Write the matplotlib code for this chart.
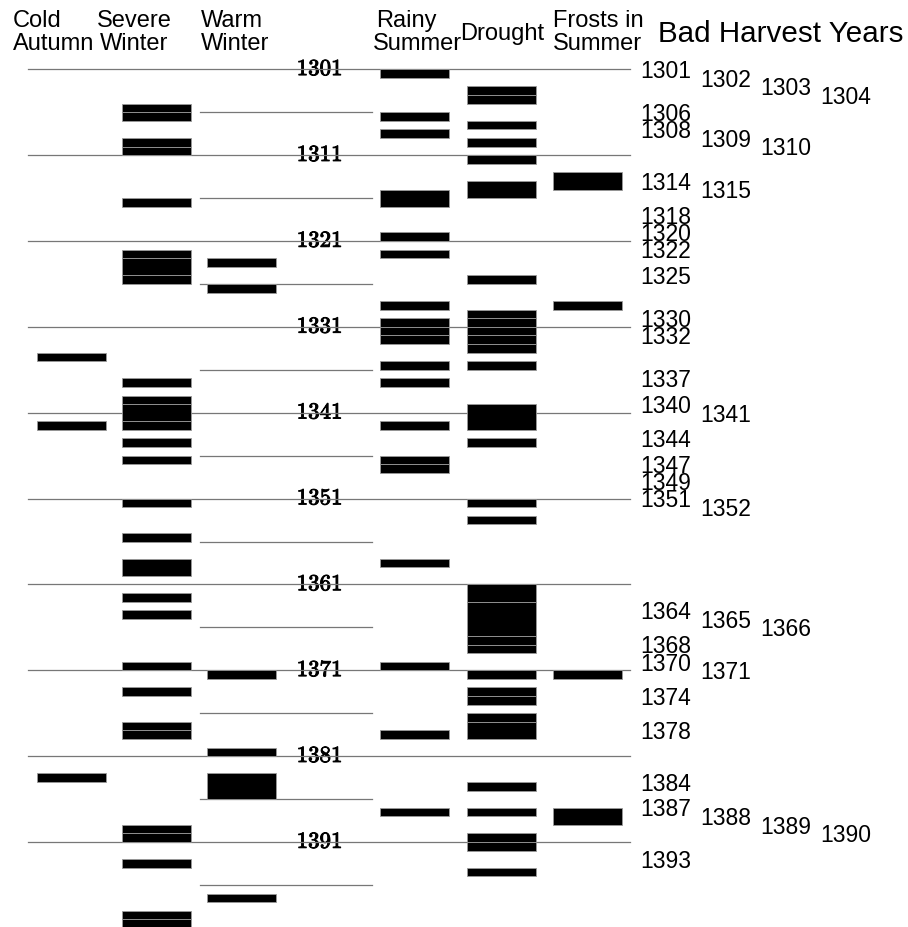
import matplotlib
matplotlib.use("Agg")
import matplotlib.pyplot as plt
import matplotlib.patheffects as pe

# ---------------- data ----------------
categories = ["Cold Autumn", "Severe Winter", "Warm Winter",
              "Rainy Summer", "Drought", "Frosts in Summer"]

cold_autumn = [(1334, 1334), (1342, 1342), (1383, 1383)]
severe_winter = [(1305, 1305), (1306, 1306), (1309, 1309), (1310, 1310),
                 (1316, 1316), (1322, 1322), (1323, 1324), (1325, 1325),
                 (1337, 1337), (1339, 1339), (1340, 1341), (1342, 1342),
                 (1344, 1344), (1346, 1346), (1351, 1351), (1355, 1355),
                 (1358, 1359), (1362, 1362), (1364, 1364), (1370, 1370),
                 (1373, 1373), (1377, 1377), (1378, 1378), (1389, 1389),
                 (1390, 1390), (1393, 1393), (1399, 1399), (1400, 1400)]
warm_winter = [(1323, 1323), (1326, 1326), (1371, 1371), (1380, 1380),
               (1383, 1385), (1397, 1397)]
rainy_summer = [(1301, 1301), (1306, 1306), (1308, 1308), (1315, 1316),
                (1320, 1320), (1322, 1322), (1328, 1328), (1330, 1330),
                (1331, 1331), (1332, 1332), (1335, 1335), (1337, 1337),
                (1342, 1342), (1346, 1346), (1347, 1347), (1358, 1358),
                (1370, 1370), (1378, 1378), (1387, 1387)]
drought = [(1303, 1303), (1304, 1304), (1307, 1307), (1309, 1309),
           (1311, 1311), (1314, 1315), (1325, 1325), (1329, 1329),
           (1330, 1330), (1331, 1331), (1332, 1332), (1333, 1333),
           (1335, 1335), (1340, 1342), (1344, 1344), (1351, 1351),
           (1353, 1353), (1361, 1362), (1363, 1366), (1367, 1367),
           (1368, 1368), (1371, 1371), (1373, 1373), (1374, 1374),
           (1376, 1376), (1377, 1378), (1384, 1384), (1387, 1387),
           (1390, 1390), (1391, 1391), (1394, 1394)]
frosts_summer = [(1313, 1314), (1328, 1328), (1371, 1371), (1387, 1388)]

bad_harvest_years = [1301, 1302, 1303, 1304, 1306, 1308, 1309, 1310, 1314,
                     1315, 1318, 1320, 1322, 1325, 1330, 1332, 1337, 1340,
                     1341, 1344, 1347, 1349, 1351, 1352, 1364, 1365, 1366,
                     1368, 1370, 1371, 1374, 1378, 1384, 1387, 1388, 1389,
                     1390, 1393]

decade_years = list(range(1301, 1392, 10))
mid_decade_years = list(range(1306, 1397, 10))

# ---------------- layout ----------------
W, H = 908, 928
Y_FIRST = 70.3      # pixel row of year 1301
PPY = 8.586         # pixels per year

fig = plt.figure(figsize=(W / 100, H / 100), dpi=100)
ax = fig.add_axes([0, 0, 1, 1])
ax.set_xlim(0, W)
ax.set_ylim(1301 + (H - Y_FIRST) / PPY, 1301 - Y_FIRST / PPY)
ax.axis("off")

SANS = ["Liberation Sans", "DejaVu Sans"]

col_centers = [71, 156.5, 241, 414.5, 501.5, 587]
col_width = 69
series = [cold_autumn, severe_winter, warm_winter, rainy_summer, drought, frosts_summer]

# grid lines
for yr in decade_years:
    ax.plot([28, 630], [yr, yr], color="#777777", lw=0.9, zorder=2)
for yr in mid_decade_years:
    ax.plot([200, 372], [yr, yr], color="#777777", lw=0.9, zorder=2)

# bars
for cx, data in zip(col_centers, series):
    starts = [s for s, e in data]
    heights = [e - s + 1 for s, e in data]
    ax.bar([cx] * len(starts), heights, bottom=starts, width=col_width,
           color="black", edgecolor="#9a9a9a", linewidth=0.6, zorder=3)

# decade labels (serif), struck through by the decade line
for yr in decade_years:
    ax.text(319.5, yr, str(yr), family="cmr10", fontsize=16.5,
            ha="center", va="center", color="black", zorder=1,
            path_effects=[pe.withStroke(linewidth=0.7, foreground="black")])

# bad harvest labels, staggered within consecutive runs
k = 0
prev = None
for yr in bad_harvest_years:
    k = k + 1 if (prev is not None and yr == prev + 1) else 0
    ax.text(640 + 60 * k, yr + 0.15, str(yr), family=SANS, fontsize=16.5,
            ha="left", va="center", color="black", zorder=4)
    prev = yr

# headers (pixel positions)
def ftext(x, y, s, size=17, **kw):
    fig.text(x / W, 1 - y / H, s, family=SANS, fontsize=size,
             ha="left", va="baseline", color="black", **kw)

ftext(13, 26.7, "Cold")
ftext(13, 50, "Autumn")
ftext(97, 26.7, "Severe")
ftext(100, 50, "Winter")
ftext(201, 26.7, "Warm")
ftext(201, 50, "Winter")
ftext(376, 26.7, "Rainy")
ftext(373, 50, "Summer")
ftext(460, 40, "Drought")
ftext(553, 26.7, "Frosts in")
ftext(553, 50, "Summer")
ftext(658, 42, "Bad Harvest Years", size=21.3)

fig.savefig("out.png", dpi=100)
